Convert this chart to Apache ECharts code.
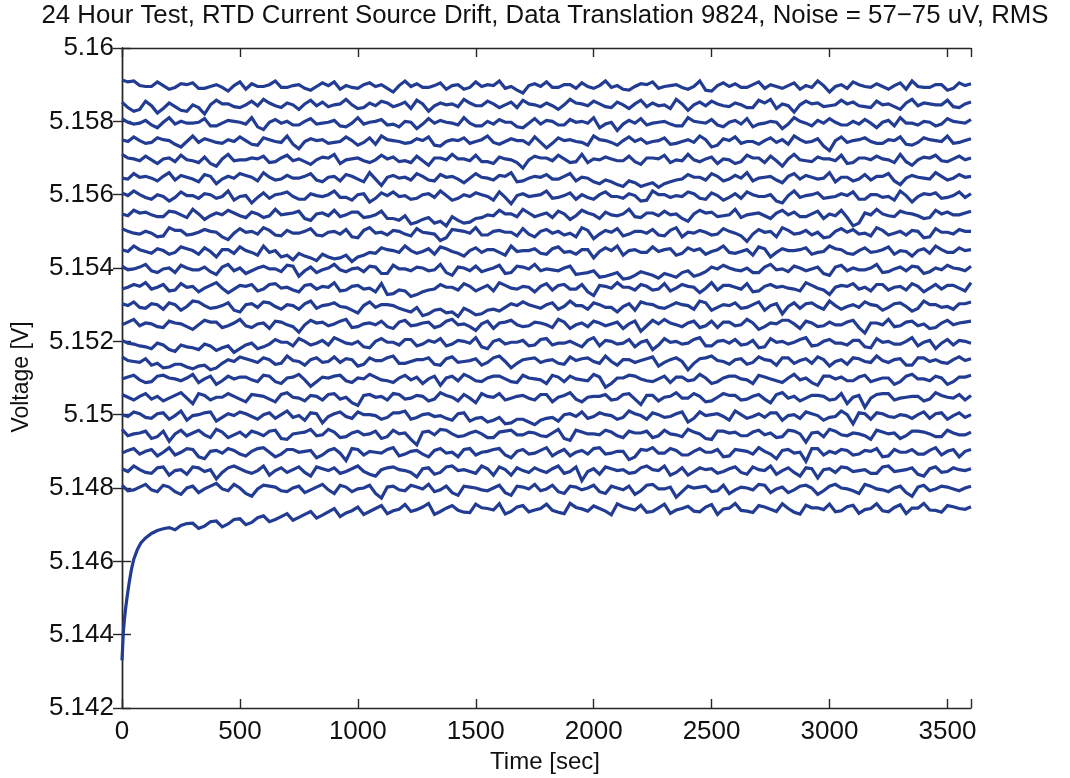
<!DOCTYPE html>
<html>
<head>
<meta charset="utf-8">
<script src="https://cdn.jsdelivr.net/npm/echarts@6/dist/echarts.min.js"></script>
<style>html,body{margin:0;padding:0;background:#fff}#c{width:1070px;height:778px}</style>
</head>
<body>
<div id="c"></div>
<script>
// ---- DATA ----
const BASE_V = 5.14;       // reference voltage for the stored numbers
const LEVEL_UNIT_V = 1e-5; // levels / warm-up values: 10 µV steps above 5.14 V
const DEV_UNIT_V = 2.5e-5; // noise deviations: 25 µV steps
const T_END = 3600;        // seconds per hourly record
const STEP = 50;           // spacing of the main readings (s); mid readings sit halfway

const yTicks = [5.142, 5.144, 5.146, 5.148, 5.15, 5.152, 5.154, 5.156, 5.158, 5.16];
const xTicks = [0, 500, 1000, 1500, 2000, 2500, 3000, 3500];

// Hour 1: warm-up record (time in s, value in 10 µV above 5.14 V)
const warmTimes = [0,3,6,10,15,21,30,40,50,65,80,100,125,150,175,200,
 250,300,350,400,450,500,550,600,650,700,750,800,850,900,950,1000,1050,1100,1150,1200,1250,1300,1350,1400,1450,1500,
 1550,1600,1650,1700,1750,1800,1850,1900,1950,2000,2050,2100,2150,2200,2250,2300,2350,2400,2450,2500,2550,2600,2650,2700,
 2750,2800,2850,2900,2950,3000,3050,3100,3150,3200,3250,3300,3350,3400,3450,3500,3550,3600];
const warmValues = [330,370,410,440,470,500,540,578,606,632,650,664,676,684,689,692,
 698,704,696,710,702,716,706,724,714,730,720,736,726,744,732,748,736,752,738,755,741,758,736,752,734,756,
 744,757,736,752,740,756,734,758,743,751,737,757,744,753,736,756,740,750,735,755,743,758,737,752,
 742,757,734,753,746,756,738,753,741,757,735,754,745,758,739,752,744,749];
// warm-up readings at 225, 275, ... 3575 s
const warmMid = [686,703,690,708,694,714,700,719,708,722,712,728,718,735,722,738,728,744,730,742,736,748,728,745,739,733,746,740,729,748,735,744,739,730,747,737,744,727,749,740,734,746,731,744,737,748,728,745,739,733,748,736,744,729,746,741,735,749,731,744,738,747,730,745,740,734,749,742];

// Hours 2..24: mean level of each record (10 µV above 5.14 V)
const levels = [800,850,900,950,1000,1050,1100,1150,1200,1250,1300,1350,1400,1450,1500,1550,1600,1650,1700,1750,1800,1850,1900];

// Deviation from the level at 0, 50, 100 ... 3600 s (25 µV units)
const dev = [
 [3,-2,4,-4,1,-7,2,-1,5,-3,0,-9,3,1,-4,2,-2,4,-6,1,-1,3,-11,2,-3,1,4,-2,-5,2,0,-3,3,-8,1,4,-1,-4,2,-2,3,-6,0,2,-3,4,-1,-10,2,1,-4,3,-2,0,4,-5,1,-2,3,-7,2,0,-3,4,-1,-4,2,-9,3,-1,1,-3,2],
 [1,4,-3,2,-6,0,3,-2,-10,2,1,-4,4,-1,-3,3,-7,1,2,-2,4,-5,0,3,-1,-8,2,-3,4,0,-4,1,3,-6,-1,2,-3,4,-2,-12,1,3,-1,-4,2,0,4,-3,-6,2,1,-2,3,-5,0,4,-1,-3,2,-9,1,3,-2,0,-4,4,-1,2,-7,3,-2,0,1],
 [-2,3,0,-5,4,-1,2,-8,1,3,-3,0,4,-6,2,-1,1,-4,3,-10,2,0,-2,4,-3,1,-6,3,-1,2,-4,0,3,-7,2,-2,4,-1,-5,1,3,-3,0,-9,2,4,-2,1,-4,3,-1,-6,2,0,4,-3,1,-2,-11,3,0,2,-4,1,3,-5,-1,2,-3,4,0,-6,2],
 [4,-1,2,-4,-9,3,0,-2,4,-5,1,2,-3,3,-7,0,4,-2,1,-4,2,-1,-6,3,0,-13,2,4,-1,-3,2,-5,1,3,-2,0,-4,4,-8,1,-1,3,-3,2,0,-5,3,-2,4,-1,-7,2,1,-3,3,0,-4,2,-10,1,4,-2,0,-3,3,-1,-6,2,1,-4,3,-2,1],
 [0,3,-3,1,-5,4,-1,2,-7,1,3,-2,0,-4,4,-1,2,-9,1,-2,3,0,-5,2,4,-3,1,-1,-6,2,-4,-8,-3,-9,-5,-11,-4,-7,1,3,-2,0,-5,4,-1,2,-3,1,-8,3,0,-2,4,-4,1,2,-6,0,3,-1,-3,4,-10,1,2,-2,0,-4,3,1,-5,2,0],
 [2,-4,3,0,-2,4,-8,1,-1,3,-3,2,0,-6,4,-2,1,-4,3,-1,-10,2,0,3,-3,1,-5,4,-1,2,-7,0,3,-2,1,-4,2,-1,4,-6,0,2,-3,3,-9,1,-1,4,-2,0,-5,3,1,-3,2,-7,4,0,-2,1,-4,3,-1,-12,2,3,-2,0,-5,4,-1,2,1],
 [-1,3,-5,2,0,-3,4,-1,-7,2,1,-2,3,-4,0,4,-9,1,2,-3,0,4,-2,-5,3,1,-1,-8,2,4,-3,0,2,-4,3,-1,-6,1,2,-2,4,-10,0,3,-1,-4,2,1,-3,4,-6,0,2,-2,3,-1,-5,4,0,-8,2,1,-3,3,-2,0,-4,4,-1,2,-7,1,3],
 [3,-2,1,-4,-8,-5,-10,-6,-9,0,3,-1,2,-5,4,-2,0,-3,3,1,-7,2,-1,4,-4,0,2,-6,3,-2,1,-3,4,-9,0,2,-1,-4,3,1,-2,4,-6,0,-1,3,-3,2,-11,1,4,-2,0,-5,3,-1,2,-4,1,3,-7,0,2,-2,4,-3,1,-6,2,0,-4,3,1],
 [1,-3,-6,-2,-9,-4,-7,-3,-10,-5,-8,-2,-6,2,-1,3,-4,1,4,-2,0,-7,3,-1,2,-5,1,3,-3,0,4,-8,2,-1,1,-4,3,-2,0,-6,4,1,-3,2,-1,-9,3,0,-2,4,-5,1,2,-3,-7,3,0,-1,4,-4,2,-2,1,-6,3,0,-3,4,-1,-8,2,1,-2],
 [-2,4,0,-4,2,-1,-7,3,1,-3,4,-5,0,2,-2,-10,3,1,-1,4,-4,0,2,-6,3,-2,1,-3,4,-1,-8,2,0,3,-4,1,-2,4,-6,0,2,-3,1,-1,-9,3,4,-2,0,-5,2,1,-3,4,-7,0,3,-1,2,-4,1,-2,3,-11,0,4,-3,2,-1,-5,3,0,2],
 [1,3,-4,0,2,-6,4,-1,-3,2,-8,1,3,-2,0,-5,4,-1,2,-3,-9,3,0,-1,-6,-3,-10,-5,-8,-4,-11,-6,-7,1,3,-2,0,-5,4,-1,2,-3,-8,1,3,0,-4,2,-1,4,-6,0,2,-3,3,-1,-10,2,1,-2,4,-5,0,3,-1,-3,2,-7,4,0,-2,1,3],
 [-3,2,4,-1,-5,3,0,-2,4,-7,1,2,-3,3,-1,-6,2,0,4,-4,1,-2,3,-8,-5,-9,-4,2,-1,3,-5,1,4,-2,0,-6,3,1,-3,2,-10,0,4,-1,2,-4,3,-2,0,-7,4,1,-1,3,-5,2,0,-3,4,-2,-9,1,3,-1,2,-4,0,3,-6,2,1,-2,4],
 [2,-1,4,-5,0,3,-2,1,-7,4,0,-3,2,-1,3,-9,1,-2,4,-4,0,2,-6,3,-1,1,-3,4,-8,0,2,-2,3,-5,1,4,-1,-3,2,-6,-3,-9,-5,-11,-4,-8,-6,-10,-3,-7,1,3,-2,0,-5,4,-1,2,-3,1,-8,3,0,-2,4,-4,1,2,-6,0,3,-1,2],
 [0,4,-2,1,-5,3,-1,2,-8,0,3,-3,4,-1,-6,-4,-9,-5,-10,-6,-8,-3,2,-1,4,-4,1,3,-2,-7,2,0,-3,4,-1,1,-5,3,-2,0,-9,2,4,-1,-3,3,0,-6,2,1,-2,4,-4,0,3,-8,1,-1,2,-3,4,0,-5,2,-2,3,-1,-7,1,4,-3,2,0],
 [3,-2,0,-6,4,1,-3,2,-1,-9,3,0,4,-4,1,-2,3,-5,0,2,-7,4,-1,1,-3,3,-2,-10,2,0,4,-4,1,-1,3,-6,2,0,-2,4,-8,1,3,-3,0,2,-5,4,-1,1,-4,3,-2,-11,2,0,4,-3,1,-1,-6,3,2,-2,4,-4,0,1,-7,3,-1,2,0],
 [-1,3,1,-4,2,-2,4,-7,0,3,-3,1,-5,4,-1,2,-8,0,3,-2,1,-4,2,-6,-3,-10,-5,-9,-4,-11,-6,-2,3,-1,4,-4,0,2,-7,3,-2,1,-3,4,-5,0,2,-1,-9,3,1,-3,4,-2,0,-6,3,1,-4,2,-1,3,-14,0,4,-3,2,-1,-6,3,1,-2,2],
 [2,4,-3,0,-7,3,-1,1,-4,4,-2,-9,2,0,3,-5,1,-2,4,-3,0,-8,2,3,-1,-4,1,4,-6,0,2,-2,3,-10,1,-1,4,-3,2,0,-5,3,-2,1,-7,4,0,-1,3,-4,2,-6,1,3,-2,0,-9,4,-1,2,-3,1,3,-5,0,-2,4,-8,1,2,-3,3,1],
 [-2,3,0,-5,4,1,-3,2,-8,0,3,-1,4,-4,1,-2,3,-6,0,2,-3,4,-10,1,-1,3,-4,2,0,-7,3,-2,1,4,-5,0,2,-3,3,-1,-6,-4,-9,-5,-11,-7,-8,-4,2,-1,3,-5,1,4,-2,0,-7,3,1,-3,4,-1,-5,2,0,3,-9,1,-2,4,-4,2,0],
 [4,-1,2,-6,0,3,-3,1,-9,4,-2,0,2,-4,3,-1,-7,1,4,-2,0,-5,3,1,-3,2,-8,0,4,-1,3,-4,1,-2,-11,2,0,3,-5,4,-1,1,-3,2,-7,0,3,-2,4,-4,1,-1,-6,3,0,2,-9,4,-3,1,-1,3,-5,0,2,-2,4,-8,1,3,-4,2,0],
 [0,3,-4,2,-1,-8,4,1,-3,0,3,-5,2,-2,4,-10,1,0,-3,3,-6,2,4,-1,-4,1,3,-7,0,2,-2,4,-5,1,-1,3,-9,2,0,-3,4,-1,-6,3,1,-2,2,-4,0,4,-8,1,3,-2,-5,2,0,4,-3,1,-12,3,-1,2,-4,0,3,-6,2,-1,4,-3,1],
 [3,-3,1,-7,4,0,-2,3,-5,1,-1,4,-9,2,0,-4,3,-2,1,-6,4,-1,2,-3,0,-8,3,1,-2,4,-5,0,2,-1,-7,3,1,-4,2,0,4,-3,-10,1,3,-2,0,-5,4,-1,2,-6,1,3,-3,0,-8,4,-2,1,3,-4,0,2,-7,1,4,-2,0,-5,3,-1,2],
 [1,-9,2,-11,0,-8,-2,-12,3,-1,-5,2,4,-3,0,-7,3,1,-2,4,-6,0,2,-4,1,3,-9,0,-1,4,-3,2,-5,1,3,-2,0,-7,4,-1,2,-4,1,-6,3,0,-2,4,-8,1,2,-3,0,-5,3,4,-1,-10,2,0,-3,3,1,-4,2,-1,-7,4,0,-2,3,-5,1],
 [5,4,-2,3,-5,1,2,-4,0,-7,3,1,-2,4,-3,0,-6,2,3,-1,-4,2,0,-8,4,1,-3,2,-1,-5,3,0,4,-2,-9,1,3,-3,0,2,-4,4,-1,-6,1,3,-2,0,-5,4,-7,2,1,-3,3,0,-4,2,-1,4,-8,0,3,-2,1,-5,2,4,-3,0,-6,2,1]
];

// Deviation from the level at 25, 75, 125 ... 3575 s (25 µV units)
const devMid = [
 [-3,1,-2,3,-4,0,-5,2,-1,4,-6,-1,2,-3,0,-5,1,-2,3,-4,0,-6,1,-2,3,-1,-4,2,-8,1,-2,0,-5,2,-1,-3,3,-6,1,0,-4,2,-2,-7,3,-1,1,-4,0,2,-3,-6,1,-2,3,-1,-5,2,0,-3,4,-1,-6,2,-2,0,-5,1,-3,2,-1,0],
 [-2,0,-4,3,-1,-5,2,0,-3,4,-2,-1,-6,2,0,-3,3,-1,-4,1,-2,-7,2,0,-3,1,-5,3,-1,-2,4,-6,0,2,-3,-1,1,-4,3,-2,-5,1,0,-3,4,-1,-6,2,-2,0,-4,1,-3,3,-1,-5,2,-7,1,0,-3,2,-1,-4,3,-2,0,-5,1,-3,2,-1],
 [1,-3,2,-1,-4,3,-6,0,-2,1,-5,3,-1,-3,2,0,-7,1,-2,3,-4,-1,2,-5,0,-3,1,-2,-6,3,-1,2,-4,0,-3,1,-5,2,-1,-3,4,-2,0,-6,1,-2,3,-4,0,-1,2,-5,1,-3,0,-8,2,-1,3,-4,-2,1,-3,0,-6,2,-1,-3,1,-4,2,0],
 [-3,0,-6,2,-1,-3,3,-5,1,-2,-4,0,2,-6,-1,1,-3,4,-5,0,-2,2,-4,-1,-7,1,-2,3,-4,0,-1,-5,2,-2,1,-3,0,-6,3,-1,-2,1,-5,0,2,-3,-1,-4,1,-6,2,0,-3,1,-2,-5,3,-1,0,-4,2,-3,-1,-7,1,0,-3,2,-1,-4,0,-2],
 [-2,1,-4,2,-1,-6,0,3,-3,-1,1,-5,2,0,-3,-6,1,-2,3,-4,0,-1,-3,2,-5,0,-2,-4,1,-7,-3,-6,-10,-5,-8,-6,-3,0,-2,-4,2,-1,-3,1,-5,0,-2,3,-4,-1,1,-6,0,-2,-3,2,-1,-4,1,-6,-2,0,2,-5,1,-3,-1,0,-4,2,-1,-3],
 [-1,0,-3,-5,1,-2,3,-4,-1,0,-6,1,-3,2,-1,-5,0,2,-3,-7,1,-1,-4,2,-2,0,-3,1,-5,-2,3,-1,-4,0,-2,2,-6,1,-3,-1,0,-4,2,-3,1,-5,0,-2,3,-6,-1,1,-4,0,-3,2,-2,-5,1,0,-3,-8,1,-2,3,-4,-1,0,-3,1,-2,-4],
 [1,-2,-4,3,-1,0,-5,2,-3,-1,1,-4,2,-6,1,-2,-4,0,3,-5,-1,1,-3,0,-2,-6,2,0,-3,1,-4,2,-1,-5,0,-2,3,-4,-1,-3,1,-6,0,2,-3,-1,-5,1,-2,0,-4,2,-1,-6,1,-3,0,-2,-5,2,-1,-3,1,-4,0,-7,2,-1,-3,0,-4,1],
 [-1,-3,-6,-9,-5,-8,-7,-11,-4,-2,1,-3,0,-4,-1,-6,2,-2,-3,0,-5,-1,2,-4,-2,0,-5,1,-3,-1,-6,2,-2,-4,1,-3,0,-5,-1,2,-4,-2,0,-3,1,-7,0,-2,-4,2,-1,-5,1,-3,0,-6,2,-1,-4,0,-2,-5,1,-3,-1,0,-6,2,-2,-3,0,-1],
 [-2,-5,-8,-4,-11,-6,-9,-5,-7,-12,-4,-8,-3,-1,-5,0,-2,-4,1,-3,-6,0,-1,-4,2,-3,-1,-5,1,-2,-6,0,-3,-1,-5,2,-4,-2,-3,1,-5,0,-2,-6,1,-4,-1,-3,2,-5,0,-2,-4,1,-6,-1,-3,2,-5,0,-2,-4,1,-7,-1,-3,0,-5,1,-2,-4,0],
 [1,-3,-1,-5,0,-4,-2,1,-5,0,-3,-1,-6,1,-4,-2,0,-3,2,-5,-1,-2,-4,1,-3,0,-5,2,-2,-4,-1,-6,1,-2,-3,0,-5,1,-2,-4,0,-1,-6,2,-3,-1,0,-4,2,-3,-5,1,-2,0,-4,-1,3,-6,0,-3,-2,1,-5,0,-2,-4,1,-3,-6,0,-2,1],
 [-1,-3,1,-5,0,-2,3,-4,-1,-6,0,-3,2,-5,-1,1,-4,0,-2,-6,-1,-3,0,-4,-8,-12,-6,-9,-13,-7,-10,-5,-3,-1,0,-4,2,-2,-1,-5,0,-3,-2,-6,1,-3,-1,0,-5,2,-3,-1,-4,0,-6,1,-2,-4,2,-5,-1,-2,-3,0,-6,1,-2,-4,0,-3,-5,1],
 [-1,0,-3,2,-4,-1,-6,1,-2,-3,0,-5,2,-2,-4,1,-3,-1,-5,0,-3,-6,-9,-4,-11,-6,-3,-1,-4,0,-2,-5,1,-3,-1,0,-4,2,-3,-6,1,-2,-1,-4,0,-3,-5,2,-1,-2,-4,1,-3,-6,0,-1,-2,-5,1,-4,-1,0,-3,-5,2,-1,-4,0,-2,-3,1,-5],
 [-2,1,-3,-1,-5,0,-2,-4,1,-3,-6,0,-1,-4,2,-3,-5,0,-2,-1,-4,1,-6,-1,-3,0,-2,-5,1,-3,-4,0,-6,2,-1,-3,-2,0,-7,-5,-10,-7,-12,-8,-6,-11,-8,-5,-9,-4,-1,0,-3,-5,1,-2,-4,0,-1,-6,1,-3,-2,0,-5,-1,-3,1,-4,-2,0,-3],
 [-2,0,-4,-1,-3,1,-5,-2,0,-4,-1,-6,-3,-8,-11,-7,-12,-8,-9,-13,-6,-4,0,-3,-1,-2,-5,1,-4,-1,-3,0,-6,-2,-1,-4,1,-3,-5,0,-2,-1,-6,0,-3,-2,1,-4,-1,-5,0,-3,-2,-6,1,-3,-1,0,-5,-2,1,-4,-1,-3,0,-5,-2,-1,-4,0,-3,-1],
 [0,-3,-2,-5,1,-4,-1,0,-6,-2,-1,-3,1,-5,-2,0,-4,-1,-3,-6,1,-2,-4,0,-5,-1,-3,-7,1,-2,-4,0,-1,-5,-3,0,-2,-4,-6,1,-3,-1,-5,0,-2,-4,1,-6,-2,-1,-3,0,-5,-3,-1,-6,1,-2,-4,-7,0,-1,-3,-5,1,-2,-4,0,-6,-1,-3,0],
 [-3,0,-2,-4,1,-5,-1,-3,-2,0,-5,-1,-3,-2,0,-6,-1,-3,-4,1,-5,-2,-6,-8,-12,-7,-11,-14,-8,-10,-5,-3,-1,-4,0,-2,-5,-1,-3,0,-6,-2,-1,-4,0,-3,-2,-6,-1,0,-4,-2,-5,-1,-3,0,-2,-4,-1,-6,-3,-5,-11,-2,-1,-4,0,-3,-5,-1,-2,0],
 [-1,0,-5,-2,-3,-1,-4,0,-2,-6,-1,-3,-4,1,-2,-5,-1,0,-3,-6,1,-4,-1,-2,-5,0,-3,-1,-4,-2,0,-6,-3,-1,-2,0,-4,-1,-5,-3,0,-2,-4,-1,-6,0,-3,-2,1,-5,-1,-3,-4,0,-2,-7,-1,-3,0,-4,-2,-1,-5,0,-3,-6,-1,-2,0,-4,-1,-3],
 [-3,-1,-2,0,-4,-1,-6,0,-3,-2,1,-5,-1,-3,-2,0,-4,-1,-5,0,-6,-3,-1,-2,-4,0,-5,-1,-3,-2,-1,-4,0,-6,-2,-1,-3,0,-5,-2,-8,-6,-11,-7,-9,-12,-6,-3,-1,-4,0,-3,-2,-5,-1,-4,0,-3,-1,-2,-6,-1,-3,-4,0,-5,-2,-1,-3,0,-2,-1],
 [0,-3,-2,-1,-4,-2,-5,-6,-1,-3,-2,-1,-5,0,-3,-4,-2,0,-6,-1,-3,-2,-1,-4,-5,-3,0,-2,-1,-3,-4,-6,-1,-5,-2,0,-3,-1,-4,-5,-2,-1,-3,-4,0,-1,-5,-3,-2,-1,-6,-2,-4,0,-5,-3,-1,-2,-4,-1,-3,-6,0,-2,-1,-5,-4,-2,0,-3,-1,-2],
 [-2,-1,-3,0,-5,-2,-3,-1,-4,-2,-1,-6,0,-3,-5,-2,-1,-4,-2,-1,-3,-5,0,-2,-3,-1,-6,-2,-1,-4,0,-3,-2,-1,-5,-3,-4,-1,-2,-6,0,-3,-1,-2,-4,-1,-5,-2,-3,0,-6,-1,-4,-2,-1,-3,-5,0,-2,-7,-1,-3,0,-2,-4,-1,-5,-3,0,-2,-4,-1],
 [-1,-2,-4,-1,-3,-2,-1,-5,-2,0,-3,-6,-1,-2,-4,0,-3,-1,-5,-2,-3,0,-4,-6,-1,-3,-2,-1,-4,-2,-5,-3,-1,-6,-2,-3,0,-4,-1,-2,-7,-1,-3,-2,-4,-1,-3,-5,0,-2,-4,-1,-3,-6,-2,-1,-3,0,-5,-2,-1,-4,-3,-2,-1,-5,-2,-4,-1,-3,0,-2],
 [-5,-7,-3,-6,-4,-9,-5,-2,-1,-4,-2,-3,0,-5,-2,-1,-3,-4,-1,-2,-5,-3,0,-2,-6,-1,-3,-2,-4,0,-3,-1,-2,-5,-1,-4,-3,-2,0,-3,-1,-5,-2,-1,-4,-3,-6,-1,-2,-3,-1,-4,-2,-5,0,-6,-3,-2,-1,-4,-2,-1,-3,-5,-2,-4,0,-3,-1,-2,-4,-1],
 [3,-1,-2,-1,-3,0,-4,-2,-3,-1,-5,-2,0,-3,-1,-4,-2,-1,-5,-3,0,-2,-4,-1,-2,-3,-1,-5,0,-3,-2,-1,-4,-6,-1,-2,-3,0,-4,-2,-1,-3,-5,-2,0,-4,-1,-3,-2,-6,-1,-2,-3,0,-4,-2,-1,-5,-3,-1,-2,-4,0,-3,-2,-1,-5,-2,-3,0,-4,-1]
];

// ---- CHART ----
const LINE_COLOR = '#223c93';
const LINE_W = 3.2;
const FONT = '"Liberation Sans", Arial, Helvetica, sans-serif';
const lvToV = u => +(BASE_V + u * LEVEL_UNIT_V).toFixed(6);
const byTime = (a, b) => a[0] - b[0];

const lineSeries = data => ({
  type: 'line', showSymbol: false, symbol: 'none', animation: false, silent: true,
  lineStyle: { color: LINE_COLOR, width: LINE_W, join: 'miter' }, data: data
});

const series = [];
const warmData = warmTimes.map((t, i) => [t, lvToV(warmValues[i])])
  .concat(warmMid.map((v, i) => [225 + i * STEP, lvToV(v)]))
  .sort(byTime);
series.push(lineSeries(warmData));

levels.forEach((lv, k) => {
  const base = lvToV(lv);
  const pts = dev[k].map((v, i) => [i * STEP, +(base + v * DEV_UNIT_V).toFixed(6)])
    .concat(devMid[k].map((v, i) => [STEP / 2 + i * STEP, +(base + v * DEV_UNIT_V).toFixed(6)]))
    .filter(p => p[0] <= T_END)
    .sort(byTime);
  series.push(lineSeries(pts));
});

const axisLineStyle = { color: '#262626', width: 1.4 };
const tickStyle = { show: true, inside: true, length: 9, lineStyle: { color: '#262626', width: 1.4 } };

const option = {
  animation: false,
  backgroundColor: '#ffffff',
  grid: { left: 122, top: 48, right: 99, bottom: 70, containLabel: false },
  xAxis: [
    { type: 'value', position: 'bottom', min: 0, max: T_END, interval: 500,
      axisLine: { show: true, lineStyle: axisLineStyle }, axisTick: tickStyle, splitLine: { show: false },
      axisLabel: { show: true, margin: 11, fontFamily: FONT, fontSize: 26, color: '#111',
        formatter: v => xTicks.indexOf(v) >= 0 ? String(v) : '' } },
    { type: 'value', position: 'top', min: 0, max: T_END, interval: 500,
      axisLine: { show: true, lineStyle: axisLineStyle }, axisTick: tickStyle, splitLine: { show: false },
      axisLabel: { show: false } }
  ],
  yAxis: [
    { type: 'value', position: 'left', min: yTicks[0], max: yTicks[yTicks.length - 1], interval: 0.002,
      axisLine: { show: true, lineStyle: axisLineStyle }, axisTick: tickStyle, splitLine: { show: false },
      axisLabel: { show: true, margin: 8, fontFamily: FONT, fontSize: 26, color: '#111',
        formatter: v => String(+(+v).toFixed(3)) } },
    { type: 'value', position: 'right', min: yTicks[0], max: yTicks[yTicks.length - 1], interval: 0.002,
      axisLine: { show: true, lineStyle: axisLineStyle }, axisTick: tickStyle, splitLine: { show: false },
      axisLabel: { show: false } }
  ],
  graphic: [
    { type: 'text', x: 545, y: 16, style: { text: '24 Hour Test, RTD Current Source Drift, Data Translation 9824, Noise = 57\u221275 uV, RMS',
      font: '25.8px ' + FONT, fill: '#111', textAlign: 'center', textVerticalAlign: 'middle' } },
    { type: 'text', x: 545, y: 762, style: { text: 'Time [sec]', font: '24px ' + FONT, fill: '#111', textAlign: 'center', textVerticalAlign: 'middle' } },
    { type: 'text', x: 22, y: 377, rotation: Math.PI / 2, style: { text: 'Voltage [V]', font: '23px ' + FONT, fill: '#111', textAlign: 'center', textVerticalAlign: 'middle' } }
  ],
  series: series
};

const chart = echarts.init(document.getElementById('c'), null, { renderer: 'canvas' });
chart.setOption(option);
</script>
</body>
</html>
